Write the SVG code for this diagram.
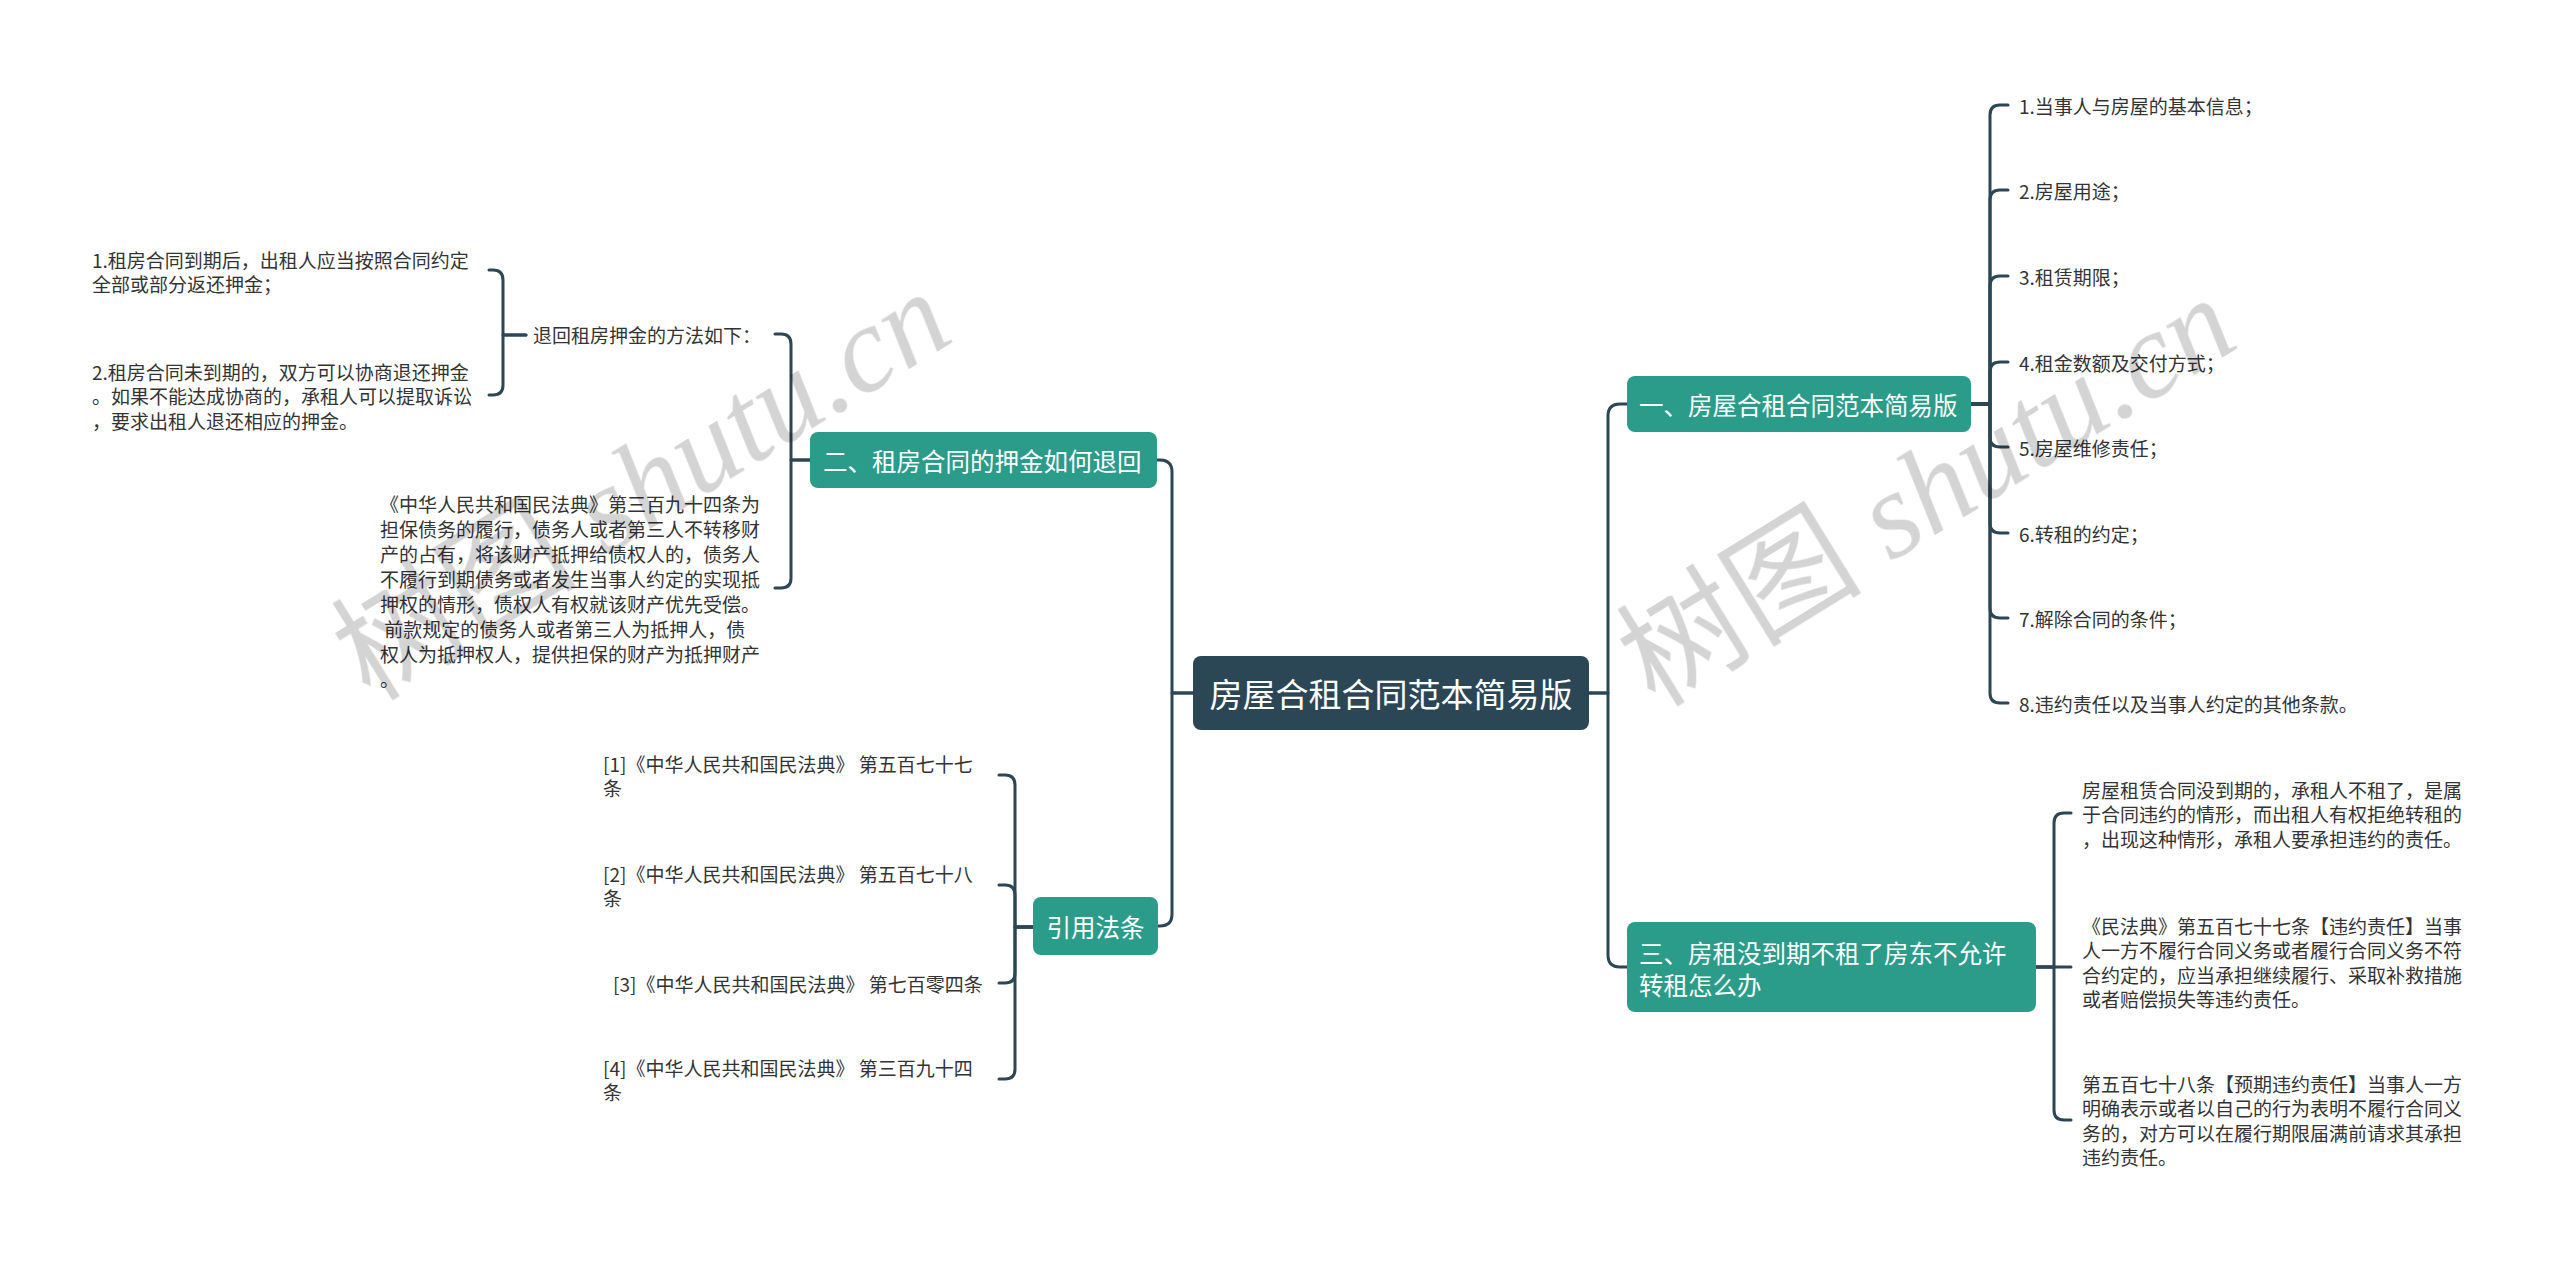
<svg xmlns="http://www.w3.org/2000/svg" width="2560" height="1262" viewBox="0 0 2560 1262">
<style>
.bg{fill:#ffffff}
.root rect{fill:#2b4756}
.branch rect{fill:#2b9c89}
.ntext{fill:#ffffff;font-family:"Noto Sans CJK SC","Noto Sans",sans-serif;dominant-baseline:central}
.leaf{fill:#333333;font-family:"Noto Sans CJK SC","Noto Sans",sans-serif;font-size:19px;dominant-baseline:central}
.conn path{fill:none;stroke:#2b4756;stroke-width:3;stroke-linecap:round;stroke-linejoin:round}
.wm{fill:#000000;opacity:0.17}
</style>
<rect class="bg" x="0" y="0" width="2560" height="1262"/>

<g id="connectors" class="conn">
<path d="M1589 693 H1608 V416 Q1608 404 1620 404 H1627"/>
<path d="M1589 693 H1608 V955 Q1608 967 1620 967 H1627"/>
<path d="M1193 693 H1172 V472 Q1172 460 1160 460 H1157"/>
<path d="M1193 693 H1172 V914 Q1172 926 1160 926 H1158"/>
<path d="M1971 404 H1990 V115 Q1990 105 2000 105 H2008"/>
<path d="M1971 404 H1990 V200 Q1990 190 2000 190 H2008"/>
<path d="M1971 404 H1990 V286 Q1990 276 2000 276 H2008"/>
<path d="M1971 404 H1990 V372 Q1990 362 2000 362 H2008"/>
<path d="M1971 404 H1990 V437 Q1990 447 2000 447 H2008"/>
<path d="M1971 404 H1990 V523 Q1990 533 2000 533 H2008"/>
<path d="M1971 404 H1990 V608 Q1990 618 2000 618 H2008"/>
<path d="M1971 404 H1990 V693 Q1990 703 2000 703 H2008"/>
<path d="M2036 967 H2054 V823 Q2054 813 2064 813 H2071"/>
<path d="M2036 967 H2071"/>
<path d="M2036 967 H2054 V1110 Q2054 1120 2064 1120 H2071"/>
<path d="M810 460 H791 V344 Q791 334 781 334 H775"/>
<path d="M810 460 H791 V578 Q791 588 781 588 H775"/>
<path d="M526 335 H503 V280 Q503 270 493 270 H489"/>
<path d="M526 335 H503 V385 Q503 395 493 395 H489"/>
<path d="M1033 927 H1015 V785 Q1015 775 1005 775 H999"/>
<path d="M1033 927 H1015 V895 Q1015 885 1005 885 H999"/>
<path d="M1033 927 H1015 V973 Q1015 983 1005 983 H999"/>
<path d="M1033 927 H1015 V1069 Q1015 1079 1005 1079 H999"/>
</g>

<g id="root" class="root">
<rect x="1193" y="656" width="396" height="74" rx="8"/>
<text class="ntext" x="1391" y="693" font-size="33" text-anchor="middle">房屋合租合同范本简易版</text>
</g>

<g id="b1" class="branch">
<rect x="1627" y="376" width="344" height="56" rx="8"/>
<text class="ntext" x="1639" y="404" font-size="24.5">一、房屋合租合同范本简易版</text>
</g>
<g id="b2" class="branch">
<rect x="810" y="432" width="347" height="56" rx="8"/>
<text class="ntext" x="823" y="460" font-size="24.5">二、租房合同的押金如何退回</text>
</g>
<g id="b3" class="branch">
<rect x="1627" y="922" width="409" height="90" rx="8"/>
<text class="ntext" x="1639" y="952" font-size="24.5">三、房租没到期不租了房东不允许</text>
<text class="ntext" x="1639" y="984" font-size="24.5">转租怎么办</text>
</g>
<g id="b4" class="branch">
<rect x="1033" y="897" width="125" height="58" rx="8"/>
<text class="ntext" x="1095.5" y="926" font-size="24.5" text-anchor="middle">引用法条</text>
</g>

<g id="b1-leaves">
<g id="l1-1"><text class="leaf" x="2019" y="105">1.当事人与房屋的基本信息；</text></g>
<g id="l1-2"><text class="leaf" x="2019" y="190">2.房屋用途；</text></g>
<g id="l1-3"><text class="leaf" x="2019" y="276">3.租赁期限；</text></g>
<g id="l1-4"><text class="leaf" x="2019" y="362">4.租金数额及交付方式；</text></g>
<g id="l1-5"><text class="leaf" x="2019" y="447">5.房屋维修责任；</text></g>
<g id="l1-6"><text class="leaf" x="2019" y="533">6.转租的约定；</text></g>
<g id="l1-7"><text class="leaf" x="2019" y="618">7.解除合同的条件；</text></g>
<g id="l1-8"><text class="leaf" x="2019" y="703">8.违约责任以及当事人约定的其他条款。</text></g>
</g>

<g id="b3-leaves">
<g id="l3-1">
<text class="leaf" x="2082" y="789">房屋租赁合同没到期的，承租人不租了，是属</text>
<text class="leaf" x="2082" y="813.5">于合同违约的情形，而出租人有权拒绝转租的</text>
<text class="leaf" x="2082" y="838">，出现这种情形，承租人要承担违约的责任。</text>
</g>
<g id="l3-2">
<text class="leaf" x="2082" y="925">《民法典》第五百七十七条【违约责任】当事</text>
<text class="leaf" x="2082" y="949.5">人一方不履行合同义务或者履行合同义务不符</text>
<text class="leaf" x="2082" y="974">合约定的，应当承担继续履行、采取补救措施</text>
<text class="leaf" x="2082" y="998.5">或者赔偿损失等违约责任。</text>
</g>
<g id="l3-3">
<text class="leaf" x="2082" y="1083">第五百七十八条【预期违约责任】当事人一方</text>
<text class="leaf" x="2082" y="1107.5">明确表示或者以自己的行为表明不履行合同义</text>
<text class="leaf" x="2082" y="1132">务的，对方可以在履行期限届满前请求其承担</text>
<text class="leaf" x="2082" y="1156.5">违约责任。</text>
</g>
</g>

<g id="b2-children">
<g id="l2-1"><text class="leaf" x="533" y="334">退回租房押金的方法如下：</text></g>
<g id="l2-1-1">
<text class="leaf" x="92" y="259">1.租房合同到期后，出租人应当按照合同约定</text>
<text class="leaf" x="92" y="283">全部或部分返还押金；</text>
</g>
<g id="l2-1-2">
<text class="leaf" x="92" y="371">2.租房合同未到期的，双方可以协商退还押金</text>
<text class="leaf" x="92" y="395.5">。如果不能达成协商的，承租人可以提取诉讼</text>
<text class="leaf" x="92" y="420">，要求出租人退还相应的押金。</text>
</g>
<g id="l2-2">
<text class="leaf" x="380" y="503">《中华人民共和国民法典》第三百九十四条为</text>
<text class="leaf" x="380" y="528">担保债务的履行，债务人或者第三人不转移财</text>
<text class="leaf" x="380" y="553">产的占有，将该财产抵押给债权人的，债务人</text>
<text class="leaf" x="380" y="578">不履行到期债务或者发生当事人约定的实现抵</text>
<text class="leaf" x="380" y="603">押权的情形，债权人有权就该财产优先受偿。</text>
<text class="leaf" x="380" y="628" xml:space="preserve"> 前款规定的债务人或者第三人为抵押人，债</text>
<text class="leaf" x="380" y="653">权人为抵押权人，提供担保的财产为抵押财产</text>
<text class="leaf" x="380" y="678">。</text>
</g>
</g>

<g id="b4-leaves">
<g id="l4-1">
<text class="leaf" x="603" y="763" xml:space="preserve">[1]《中华人民共和国民法典》 第五百七十七</text>
<text class="leaf" x="603" y="787">条</text>
</g>
<g id="l4-2">
<text class="leaf" x="603" y="873" xml:space="preserve">[2]《中华人民共和国民法典》 第五百七十八</text>
<text class="leaf" x="603" y="897">条</text>
</g>
<g id="l4-3">
<text class="leaf" x="613" y="983" xml:space="preserve">[3]《中华人民共和国民法典》 第七百零四条</text>
</g>
<g id="l4-4">
<text class="leaf" x="603" y="1067" xml:space="preserve">[4]《中华人民共和国民法典》 第三百九十四</text>
<text class="leaf" x="603" y="1091">条</text>
</g>
</g>

<g id="watermarks" class="wm">
<text transform="translate(370 702) rotate(-31.7)" font-size="123"><tspan font-family="Noto Sans CJK SC, sans-serif">树图</tspan><tspan font-family="Liberation Serif, serif" font-style="italic" xml:space="preserve"> shutu.cn</tspan></text>
<text transform="translate(1655 708) rotate(-31.7)" font-size="123"><tspan font-family="Noto Sans CJK SC, sans-serif">树图</tspan><tspan font-family="Liberation Serif, serif" font-style="italic" xml:space="preserve"> shutu.cn</tspan></text>
</g>
</svg>
